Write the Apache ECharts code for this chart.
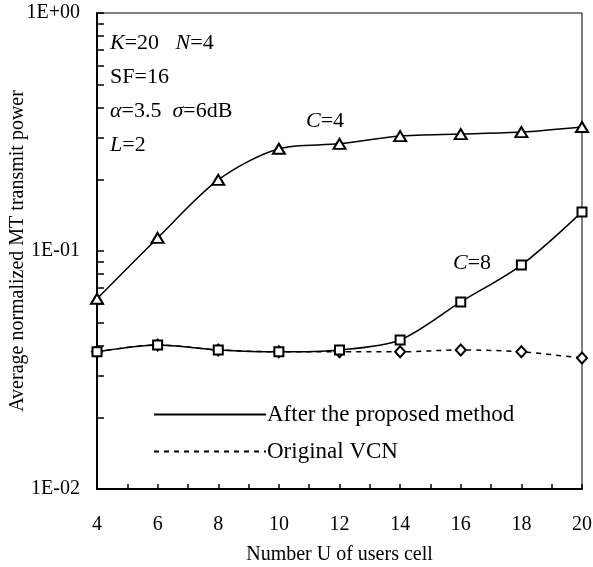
<!DOCTYPE html>
<html lang="en">
<head>
<meta charset="utf-8">
<script src="https://cdn.jsdelivr.net/npm/echarts@6/dist/echarts.min.js"></script>
<style>
  * { margin: 0; padding: 0; }
  body { background: #fff; }
</style>
</head>
<body>
<div id="main" style="width:593px;height:567px;"></div>
<script>
// number of users per cell
var users = [4, 6, 8, 10, 12, 14, 16, 18, 20];
// after the proposed method, C=4 (triangles)
var afterC4 = [0.063, 0.1135, 0.199, 0.269, 0.282, 0.304, 0.310, 0.316, 0.332];
// after the proposed method, C=8 (squares)
var afterC8 = [0.0377, 0.0403, 0.0384, 0.0377, 0.0384, 0.0423, 0.0611, 0.0873, 0.146];
// original VCN (diamonds, dashed)
var originalVCN = [0.0377, 0.0403, 0.0384, 0.0377, 0.0377, 0.0377, 0.0384, 0.0377, 0.0355];
// y ticks on the log axis: 2..9 in every decade
var yTicks = [0.01, 0.02, 0.03, 0.04, 0.05, 0.06, 0.07, 0.08, 0.09,
              0.1, 0.2, 0.3, 0.4, 0.5, 0.6, 0.7, 0.8, 0.9, 1];

var serif = '"Liberation Serif", "Times New Roman", serif';

function pairs(ys) {
    return users.map(function (x, i) { return [x, ys[i]]; });
}

var myChart = echarts.init(document.getElementById('main'));

var lineCommon = {
    type: 'line',
    smooth: 0.3,
    clip: false,
    color: '#000',
    symbolSize: 9,
    itemStyle: { color: '#000', borderColor: '#000', borderWidth: 1.5 },
    lineStyle: { color: '#000', width: 1.5 },
    z: 3
};

var italic = { i: { fontFamily: serif, fontSize: 22, fontStyle: 'italic' } };

var option = {
    animation: false,
    backgroundColor: '#fff',
    grid: {
        left: 97, right: 11, top: 13, bottom: 78,
        outerBoundsMode: 'none',
        containLabel: false,
        show: true, borderColor: '#000', borderWidth: 1
    },
    xAxis: {
        type: 'value',
        min: 4, max: 20, interval: 2,
        name: 'Number U of users cell',
        nameLocation: 'middle',
        nameGap: 56,
        nameMoveOverlap: false,
        nameTextStyle: { fontFamily: serif, fontSize: 20, color: '#000' },
        axisLine: { lineStyle: { color: '#000', width: 2 } },
        axisTick: { inside: true, length: 5, lineStyle: { color: '#000', width: 1.5 } },
        minorTick: { show: true, splitNumber: 2, length: 5, lineStyle: { color: '#000', width: 1.5 } },
        axisLabel: { margin: 26, fontFamily: serif, fontSize: 20, color: '#000' },
        splitLine: { show: false }
    },
    yAxis: {
        type: 'log',
        logBase: 10,
        min: 0.01, max: 1,
        name: 'Average normalized MT transmit power',
        nameLocation: 'middle',
        nameGap: 69,
        nameMoveOverlap: false,
        nameTextStyle: { fontFamily: serif, fontSize: 20, color: '#000' },
        axisLine: { lineStyle: { color: '#000', width: 2 } },
        axisTick: {
            inside: true, length: 7,
            interval: 0,
            customValues: yTicks,
            lineStyle: { color: '#000', width: 1.5 }
        },
        axisLabel: {
            margin: 17, fontFamily: serif, fontSize: 20, color: '#000',
            formatter: function (v) {
                var e = Math.round(Math.log10(v));
                return '1E' + (e < 0 ? '-' : '+') + ('0' + Math.abs(e)).slice(-2);
            }
        },
        splitLine: { show: false }
    },
    legend: {
        orient: 'vertical',
        left: 148, top: 398,
        itemWidth: 112, itemHeight: 14,
        itemGap: 14,
        data: ['After the proposed method', 'Original VCN'],
        itemStyle: { opacity: 0 },
        textStyle: { fontFamily: serif, fontSize: 23, color: '#000', padding: [0, 0, 0, -4] }
    },
    graphic: [
        {
            type: 'text', left: 110, top: 32,
            style: {
                text: '{i|K}=20   {i|N}=4',
                fontFamily: serif, fontSize: 22, fill: '#000', rich: italic
            }
        },
        {
            type: 'text', left: 110, top: 66,
            style: { text: 'SF=16', fontFamily: serif, fontSize: 22, fill: '#000' }
        },
        {
            type: 'text', left: 110, top: 100,
            style: {
                text: '{i|α}=3.5  {i|σ}=6dB',
                fontFamily: serif, fontSize: 22, fill: '#000', rich: italic
            }
        },
        {
            type: 'text', left: 110, top: 134,
            style: {
                text: '{i|L}=2',
                fontFamily: serif, fontSize: 22, fill: '#000', rich: italic
            }
        },
        {
            type: 'text', left: 306, top: 110,
            style: {
                text: '{i|C}=4',
                fontFamily: serif, fontSize: 22, fill: '#000', rich: italic
            }
        },
        {
            type: 'text', left: 453, top: 252,
            style: {
                text: '{i|C}=8',
                fontFamily: serif, fontSize: 22, fill: '#000', rich: italic
            }
        }
    ],
    series: [
        Object.assign({}, lineCommon, {
            name: 'After the proposed method',
            symbol: 'emptyTriangle',
            symbolSize: [12, 10],
            data: pairs(afterC4)
        }),
        Object.assign({}, lineCommon, {
            name: 'Original VCN',
            symbol: 'emptyDiamond',
            symbolSize: [10, 11],
            lineStyle: { color: '#000', width: 1.5, type: [5, 5] },
            z: 2,
            data: pairs(originalVCN)
        }),
        Object.assign({}, lineCommon, {
            name: 'After the proposed method',
            symbol: 'emptyRect',
            symbolSize: 9,
            data: pairs(afterC8)
        })
    ]
};

myChart.setOption(option);
</script>
</body>
</html>
